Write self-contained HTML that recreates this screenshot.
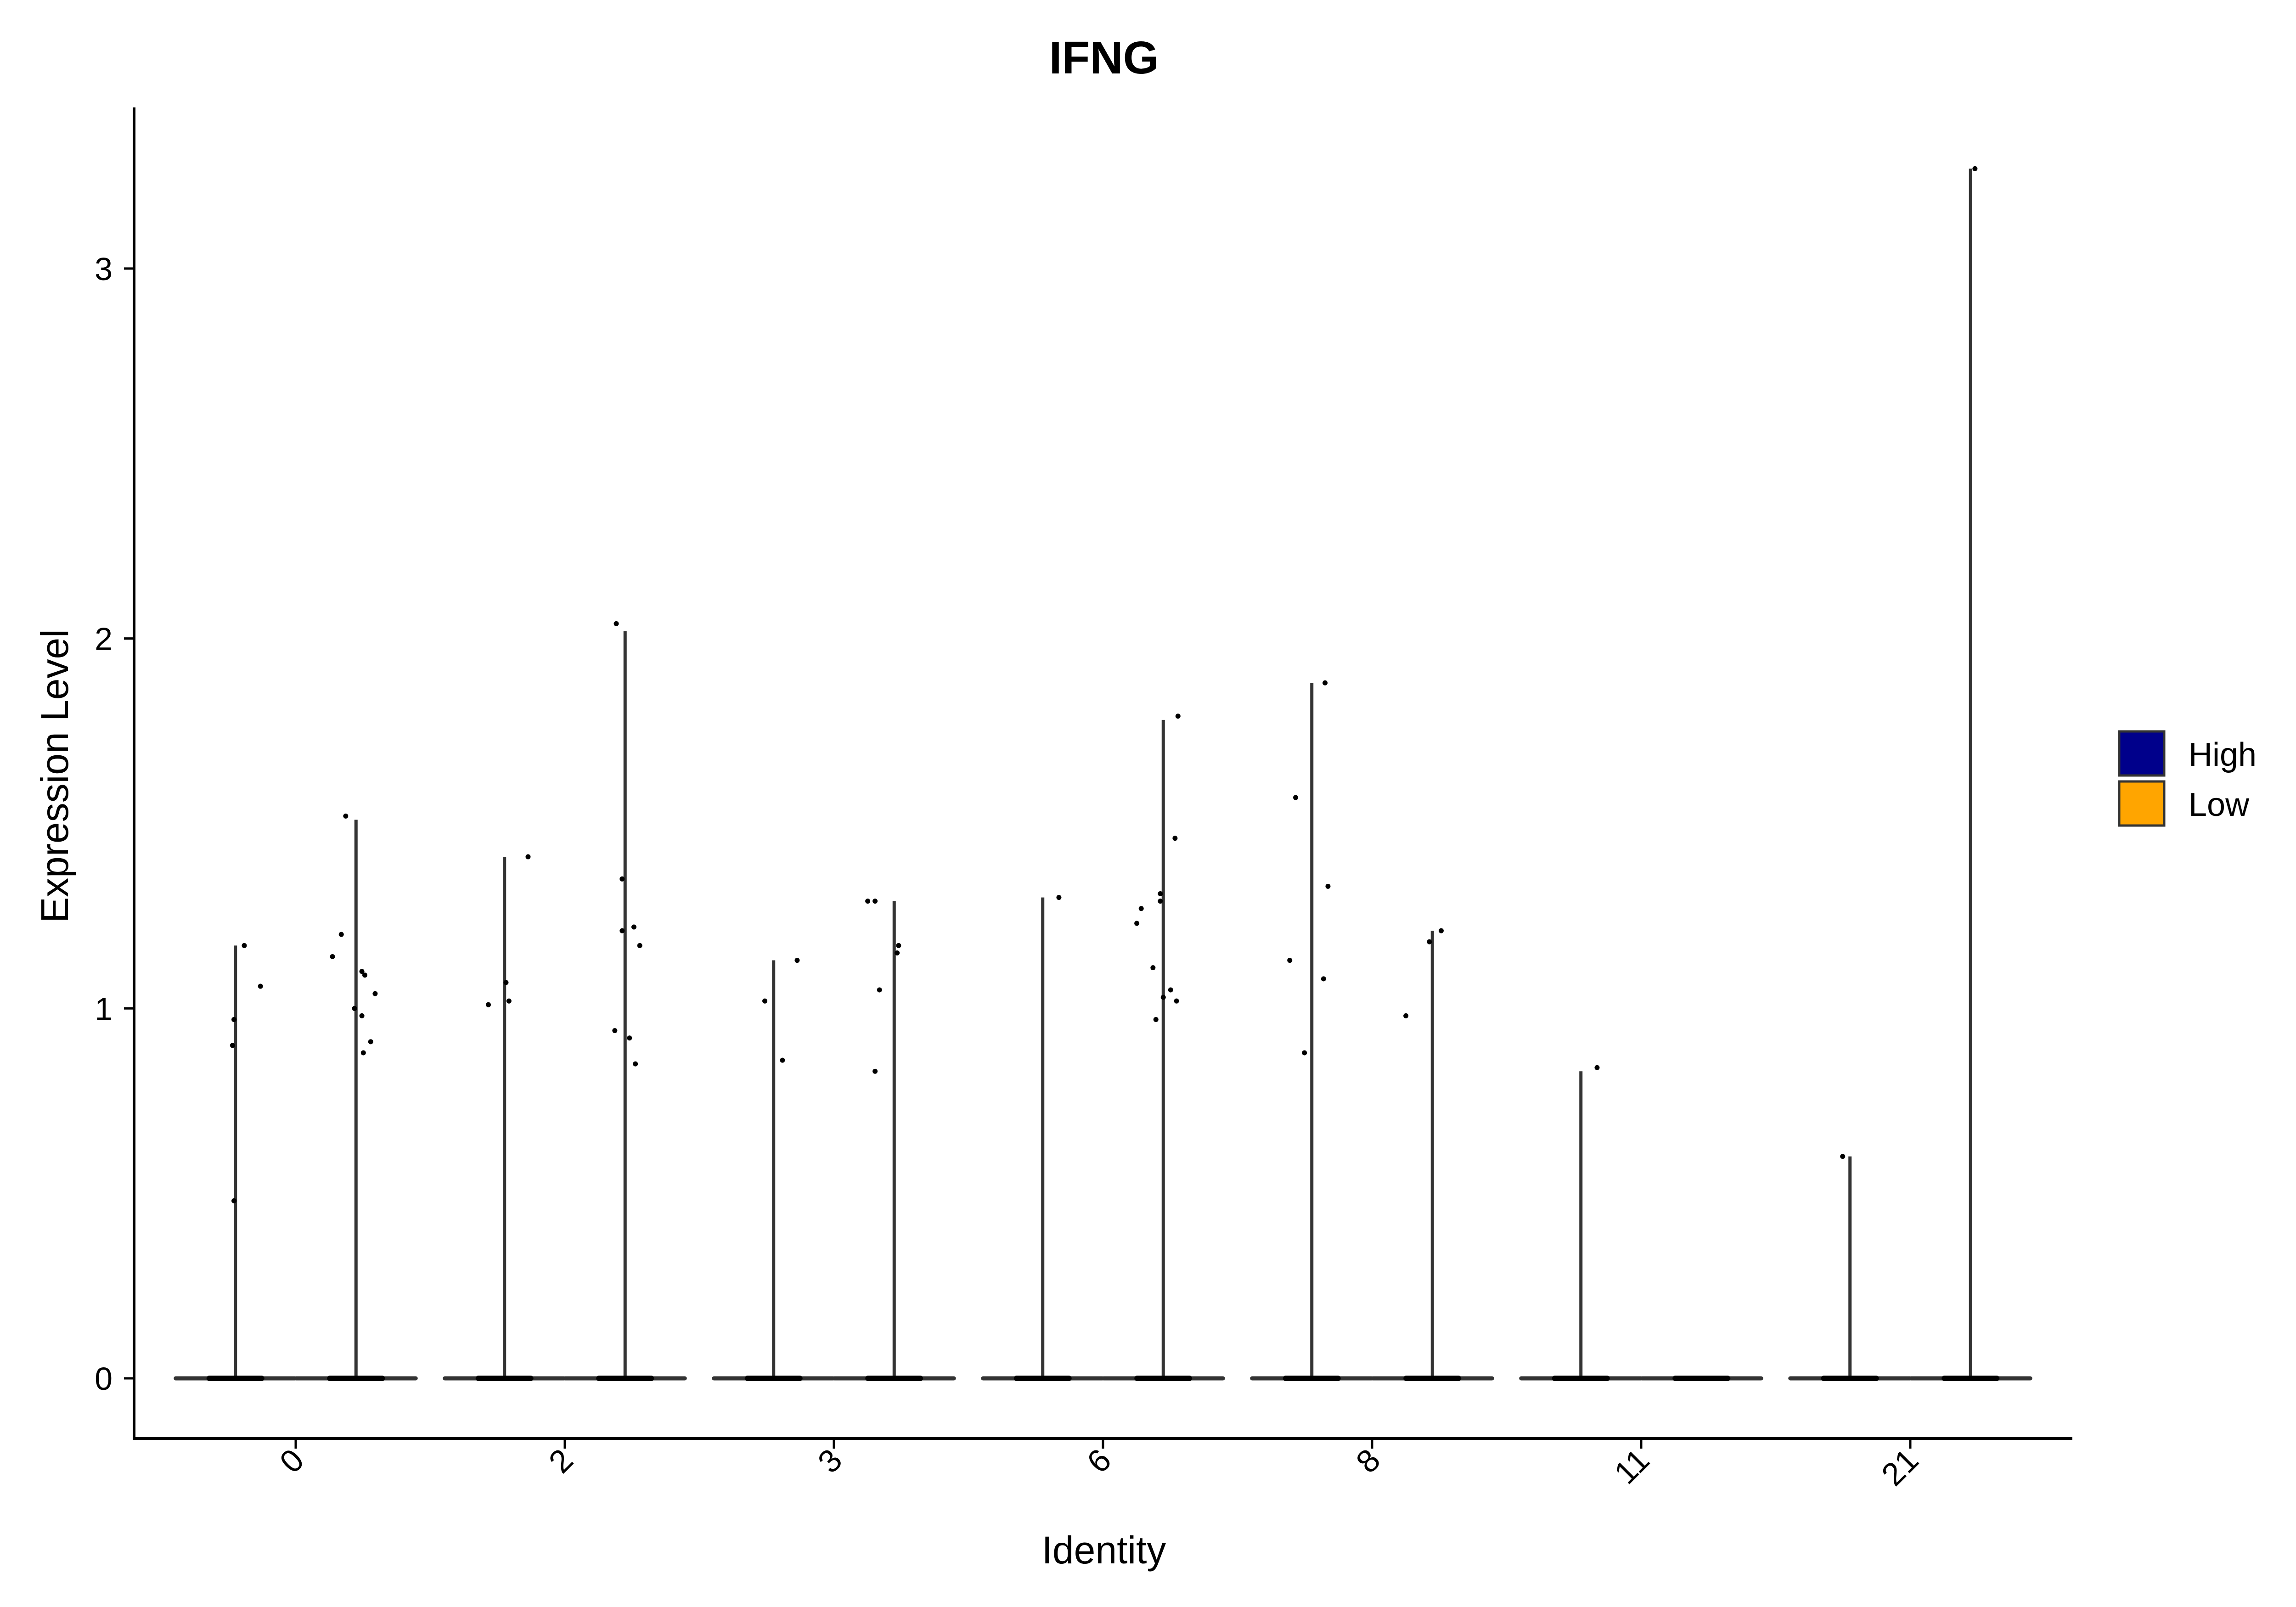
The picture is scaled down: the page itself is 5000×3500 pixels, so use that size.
<!DOCTYPE html>
<html><head><meta charset="utf-8"><style>
html,body{margin:0;padding:0;background:#fff;}
svg{display:block;font-family:"Liberation Sans",Arial,sans-serif;}
</style></head><body>
<svg id="chart" width="5000" height="3500" viewBox="0 0 5000 3500">
<text x="2404" y="160" font-size="100" font-weight="bold" text-anchor="middle">IFNG</text>
<g id="plot"></g>
<line x1="292" y1="234" x2="292" y2="3136" stroke="#000" stroke-width="6"/>
<line x1="289" y1="3133" x2="4513" y2="3133" stroke="#000" stroke-width="6"/>
<g id="yticks"></g>
<g id="xticks"></g>
<text transform="translate(148,1690) rotate(-90)" font-size="84" text-anchor="middle">Expression Level</text>
<text x="2404" y="3405" font-size="84" text-anchor="middle">Identity</text>
<g>
<rect x="4615" y="1593" width="98" height="96" fill="#00008B" stroke="#333" stroke-width="5"/>
<text x="4766" y="1668" font-size="72">High</text>
<rect x="4615" y="1702" width="98" height="96" fill="#FFA500" stroke="#333" stroke-width="5"/>
<text x="4766" y="1777" font-size="72">Low</text>
</g>
</svg>
<script>
const categories = ["0","2","3","6","8","11","21"];
const highMax = [1.17,1.41,1.13,1.30,1.88,0.83,0.60];
const lowMax = [1.51,2.02,1.29,1.78,1.21,0,3.27];
const highPoints = [
 [[-1,0.97],[-2,0.90],[-1,0.48],[6,1.17],[17,1.06]],
 [[16,1.41],[1,1.07],[3,1.02],[-11,1.01]],
 [[16,1.13],[-6,1.02],[6,0.86]],
 [[11,1.30]],
 [[9,1.88],[-11,1.57],[11,1.33],[-15,1.13],[8,1.08],[-5,0.88]],
 [[11,0.84]],
 [[-5,0.60]]
];
const lowPoints = [
 [[-7,1.52],[-10,1.20],[-16,1.14],[4,1.10],[6,1.09],[13,1.04],[-1,1.00],[4,0.98],[10,0.91],[5,0.88]],
 [[-6,2.04],[-2,1.35],[-2,1.21],[6,1.22],[10,1.17],[-7,0.94],[3,0.92],[7,0.85]],
 [[-18,1.29],[-13,1.29],[3,1.17],[2,1.15],[-10,1.05],[-13,0.83]],
 [[10,1.79],[8,1.46],[-2,1.31],[-2,1.29],[-15,1.27],[-18,1.23],[-7,1.11],[5,1.05],[0,1.03],[9,1.02],[-5,0.97]],
 [[6,1.21],[-2,1.18],[-18,0.98]],
 [],
 [[3,3.27]]
];
const yTicks = [0,1,2,3];

const NS="http://www.w3.org/2000/svg";
function X(i){return 644+586*i;}
function Y(v){return 3002-v*805.7;}
function mk(tag,attrs,parent){const e=document.createElementNS(NS,tag);for(const k in attrs)e.setAttribute(k,attrs[k]);parent.appendChild(e);return e;}
const plot=document.getElementById('plot');
const yt=document.getElementById('yticks');
const xt=document.getElementById('xticks');
yTicks.forEach(t=>{
 const l=mk('line',{x1:270,x2:292,y1:Y(t),y2:Y(t),stroke:'#000','stroke-width':5},yt);
 
 
 const tx=mk('text',{x:245,y:Y(t)+25,'font-size':70,'text-anchor':'end'},yt);
 tx.textContent=t;
 
 
});
categories.forEach((c,i)=>{
 const l=mk('line',{x1:X(i),x2:X(i),y1:3133,y2:3155,stroke:'#000','stroke-width':5},xt);
 
 
 const tx=mk('text',{transform:`translate(${X(i)+22},3185) rotate(-45)`,'font-size':70,'text-anchor':'end'},xt);
 tx.textContent=c;
 
 
 [[highMax,highPoints,-0.224,'high'],[lowMax,lowPoints,0.224,'low']].forEach(([mx,pts,off,nm])=>{
  const cx=X(i+off);
  const v=mk('line',{x1:cx-130,x2:cx+130,y1:Y(0),y2:Y(0),stroke:'#333','stroke-width':9,'stroke-linecap':'round'},plot);
  
  
  if(mx[i]>0){
   const s=mk('line',{x1:cx,x2:cx,y1:Y(0),y2:Y(mx[i]),stroke:'#333','stroke-width':7},plot);
   
   
  }
  const b=mk('rect',{x:cx-63,y:Y(0)-6,width:126,height:12,rx:6,fill:'#000'},plot);
  
  
  pts[i].forEach(p=>{
   const d=mk('circle',{cx:cx+p[0]/183*586,cy:Y(p[1]),r:5.5,fill:'#000'},plot);
   
   
  });
 });
});
</script>
</body></html>
